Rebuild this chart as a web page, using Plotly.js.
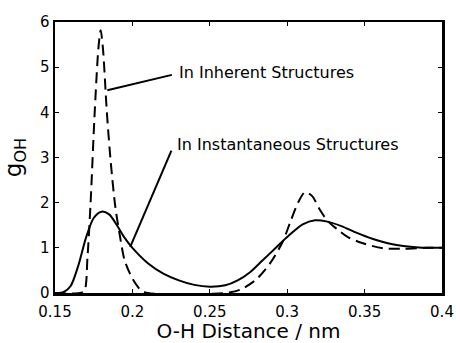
<!DOCTYPE html>
<html>
<head>
<meta charset="utf-8">
<script src="https://cdn.plot.ly/plotly-3.0.1.min.js"></script>
<style>html,body{margin:0;padding:0;background:#fff;}#chart{width:460px;height:343px;}</style>
</head>
<body>
<div id="chart"></div>
<script>
// Instantaneous structures (solid)
const instX = [0.15,0.155,0.16,0.165,0.17,0.175,0.18,0.185,0.19,0.195,0.2,0.21,0.22,0.23,0.24,0.25,0.26,0.268,0.276,0.284,0.292,0.3,0.31,0.318,0.326,0.335,0.345,0.355,0.365,0.375,0.385,0.4];
const instY = [0,0.01,0.15,0.6,1.22,1.66,1.8,1.74,1.5,1.22,1.0,0.66,0.43,0.28,0.18,0.14,0.17,0.28,0.46,0.72,0.98,1.24,1.52,1.61,1.58,1.48,1.33,1.2,1.1,1.04,1.01,1.0];
// Inherent structures (dashed)
const inhX = [0.15,0.166,0.169,0.171,0.173,0.1755,0.178,0.1795,0.181,0.1835,0.186,0.189,0.192,0.195,0.2,0.205,0.21,0.26,0.27,0.28,0.289,0.297,0.302,0.307,0.3115,0.316,0.321,0.326,0.332,0.339,0.349,0.362,0.375,0.39,0.4];
const inhY = [0,0,0.05,0.8,2.0,3.9,5.4,5.82,5.4,4.0,2.9,1.9,1.25,0.72,0.32,0.08,0,0,0.08,0.3,0.66,1.13,1.57,2.0,2.23,2.15,1.85,1.6,1.42,1.24,1.1,0.99,0.98,1.0,1.0];
const xTicks = [0.15,0.2,0.25,0.3,0.35,0.4];
const xTickText = ['0.15','0.2','0.25','0.3','0.35','0.4'];
const yTicks = [0,1,2,3,4,5,6];
const labelInherent = 'In Inherent Structures';
const labelInstant = 'In Instantaneous Structures';

const font = 'DejaVu Sans, Liberation Sans, Arial, sans-serif';
const traces = [
  {x: instX, y: instY, mode: 'lines', line: {color: '#000', width: 2, shape: 'spline', smoothing: 0.8}, hoverinfo: 'skip'},
  {x: inhX, y: inhY, mode: 'lines', line: {color: '#000', width: 2, dash: '11px,6px', shape: 'spline', smoothing: 0.8}, hoverinfo: 'skip'}
];
const axisCommon = {showgrid: false, zeroline: false, showline: true, linecolor: '#000', linewidth: 2.5, mirror: 'ticks', ticks: 'inside', ticklen: 4, tickcolor: '#000', tickwidth: 1, tickfont: {family: font, size: 15, color: '#000'}};
const layout = {
  width: 460, height: 343,
  margin: {l: 55, r: 18, t: 22, b: 50},
  paper_bgcolor: '#fff', plot_bgcolor: '#fff',
  showlegend: false,
  xaxis: Object.assign({}, axisCommon, {range: [0.15, 0.4], tickvals: xTicks, ticktext: xTickText, ticklabelstandoff: 3,
    title: {text: 'O-H Distance / nm', font: {family: font, size: 20, color: '#000'}, standoff: 0}}),
  yaxis: Object.assign({}, axisCommon, {range: [0, 6], tickvals: yTicks,
    title: {text: 'g<sub>OH</sub>', font: {family: font, size: 23, color: '#000'}, standoff: 12}}),
  shapes: [
    {type: 'line', xref: 'x', yref: 'y', x0: 0.1838, y0: 4.49, x1: 0.2255, y1: 4.83, line: {color: '#000', width: 2}},
    {type: 'line', xref: 'x', yref: 'y', x0: 0.2252, y0: 3.15, x1: 0.1986, y1: 1.02, line: {color: '#000', width: 2}}
  ],
  annotations: [
    {text: labelInherent, xref: 'x', yref: 'y', x: 0.2285, y: 4.89, xanchor: 'left', yanchor: 'middle', showarrow: false, font: {family: font, size: 16, color: '#000'}},
    {text: labelInstant, xref: 'x', yref: 'y', x: 0.2275, y: 3.28, xanchor: 'left', yanchor: 'middle', showarrow: false, font: {family: font, size: 16, color: '#000'}}
  ]
};
Plotly.newPlot('chart', traces, layout, {staticPlot: true, displayModeBar: false});
</script>
</body>
</html>
